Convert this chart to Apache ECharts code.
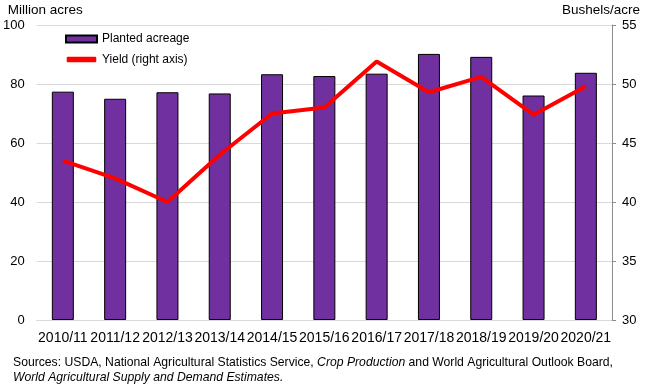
<!DOCTYPE html>
<html><head><meta charset="utf-8">
<script src="https://cdn.jsdelivr.net/npm/echarts@6/dist/echarts.min.js"></script>
<style>html,body{margin:0;padding:0;background:#fff}#c{width:645px;height:388px}</style>
</head><body><div id="c"></div>
<script>
const categories = ['2010/11','2011/12','2012/13','2013/14','2014/15','2015/16','2016/17','2017/18','2018/19','2019/20','2020/21'];
const plantedAcreage = [77.4, 75.0, 77.2, 76.8, 83.3, 82.7, 83.5, 90.2, 89.2, 76.1, 83.8];
const yieldValues = [43.5, 42.0, 40.0, 44.0, 47.5, 48.0, 51.9, 49.3, 50.6, 47.4, 49.8];
const leftTicks = {min: 0, max: 100, interval: 20};
const rightTicks = {min: 30, max: 55, interval: 5};

const FONT = 'Liberation Sans, Arial, sans-serif';
const chart = echarts.init(document.getElementById('c'), null, {renderer: 'canvas'});
chart.setOption({
  animation: false,
  backgroundColor: '#fff',
  textStyle: {fontFamily: FONT, color: '#000'},
  grid: {left: 36, right: 33, top: 25, bottom: 68, containLabel: false},
  legend: {
    orient: 'vertical', left: 60, top: 28, itemWidth: 31, itemHeight: 7, itemGap: 8.5,
    textStyle: {fontSize: 12, color: '#000', fontFamily: FONT},
    data: [
      {name: 'Planted acreage', icon: 'rect'},
      {name: 'Yield (right axis)', icon: 'roundRect',
       itemStyle: {color: '#ff0000', borderColor: '#ffffff', borderWidth: 1.4}}
    ]
  },
  xAxis: {
    type: 'category', data: categories,
    axisLine: {lineStyle: {color: '#d9d9d9', width: 1}},
    axisTick: {show: false},
    axisLabel: {fontSize: 14, color: '#000', interval: 0, margin: 11, fontFamily: FONT}
  },
  yAxis: [
    {type: 'value', min: leftTicks.min, max: leftTicks.max, interval: leftTicks.interval,
     name: 'Million acres', nameLocation: 'end', nameGap: 8,
     nameTextStyle: {fontSize: 13.5, color: '#000', align: 'left', padding: [0,0,0,-29], fontFamily: FONT},
     axisLine: {show: false}, axisTick: {show: false},
     axisLabel: {fontSize: 13, color: '#000', margin: 12, fontFamily: FONT},
     splitLine: {lineStyle: {color: '#d9d9d9', width: 1}}},
    {type: 'value', min: rightTicks.min, max: rightTicks.max, interval: rightTicks.interval,
     position: 'right',
     name: 'Bushels/acre', nameLocation: 'end', nameGap: 8,
     nameTextStyle: {fontSize: 13.5, color: '#000', align: 'right', padding: [0,-28,0,0], fontFamily: FONT},
     axisLine: {show: true, lineStyle: {color: '#8c8c8c', width: 1}},
     axisTick: {show: true, inside: false, length: 4, lineStyle: {color: '#8c8c8c'}},
     axisLabel: {fontSize: 13, color: '#000', margin: 10, fontFamily: FONT},
     splitLine: {show: false}}
  ],
  series: [
    {name: 'Planted acreage', type: 'bar', yAxisIndex: 0, data: plantedAcreage, barWidth: 22,
     itemStyle: {color: '#7030A0', borderColor: '#000', borderWidth: 1}},
    {name: 'Yield (right axis)', type: 'line', yAxisIndex: 1, data: yieldValues,
     symbol: 'none', lineStyle: {color: '#ff0000', width: 4}, itemStyle: {color: '#ff0000'}, z: 5}
  ],
  graphic: [
    {type: 'text', left: 13, top: 355, style: {
      text: 'Sources: USDA, National Agricultural Statistics Service, {i|Crop Production} and World Agricultural Outlook Board,\n{i|World Agricultural Supply and Demand Estimates.}',
      font: '12.2px ' + FONT, fill: '#000', lineHeight: 15,
      rich: {i: {fontStyle: 'italic', fontSize: 12.2, fontFamily: FONT, fill: '#000', lineHeight: 15}}
    }}
  ]
});
</script></body></html>
